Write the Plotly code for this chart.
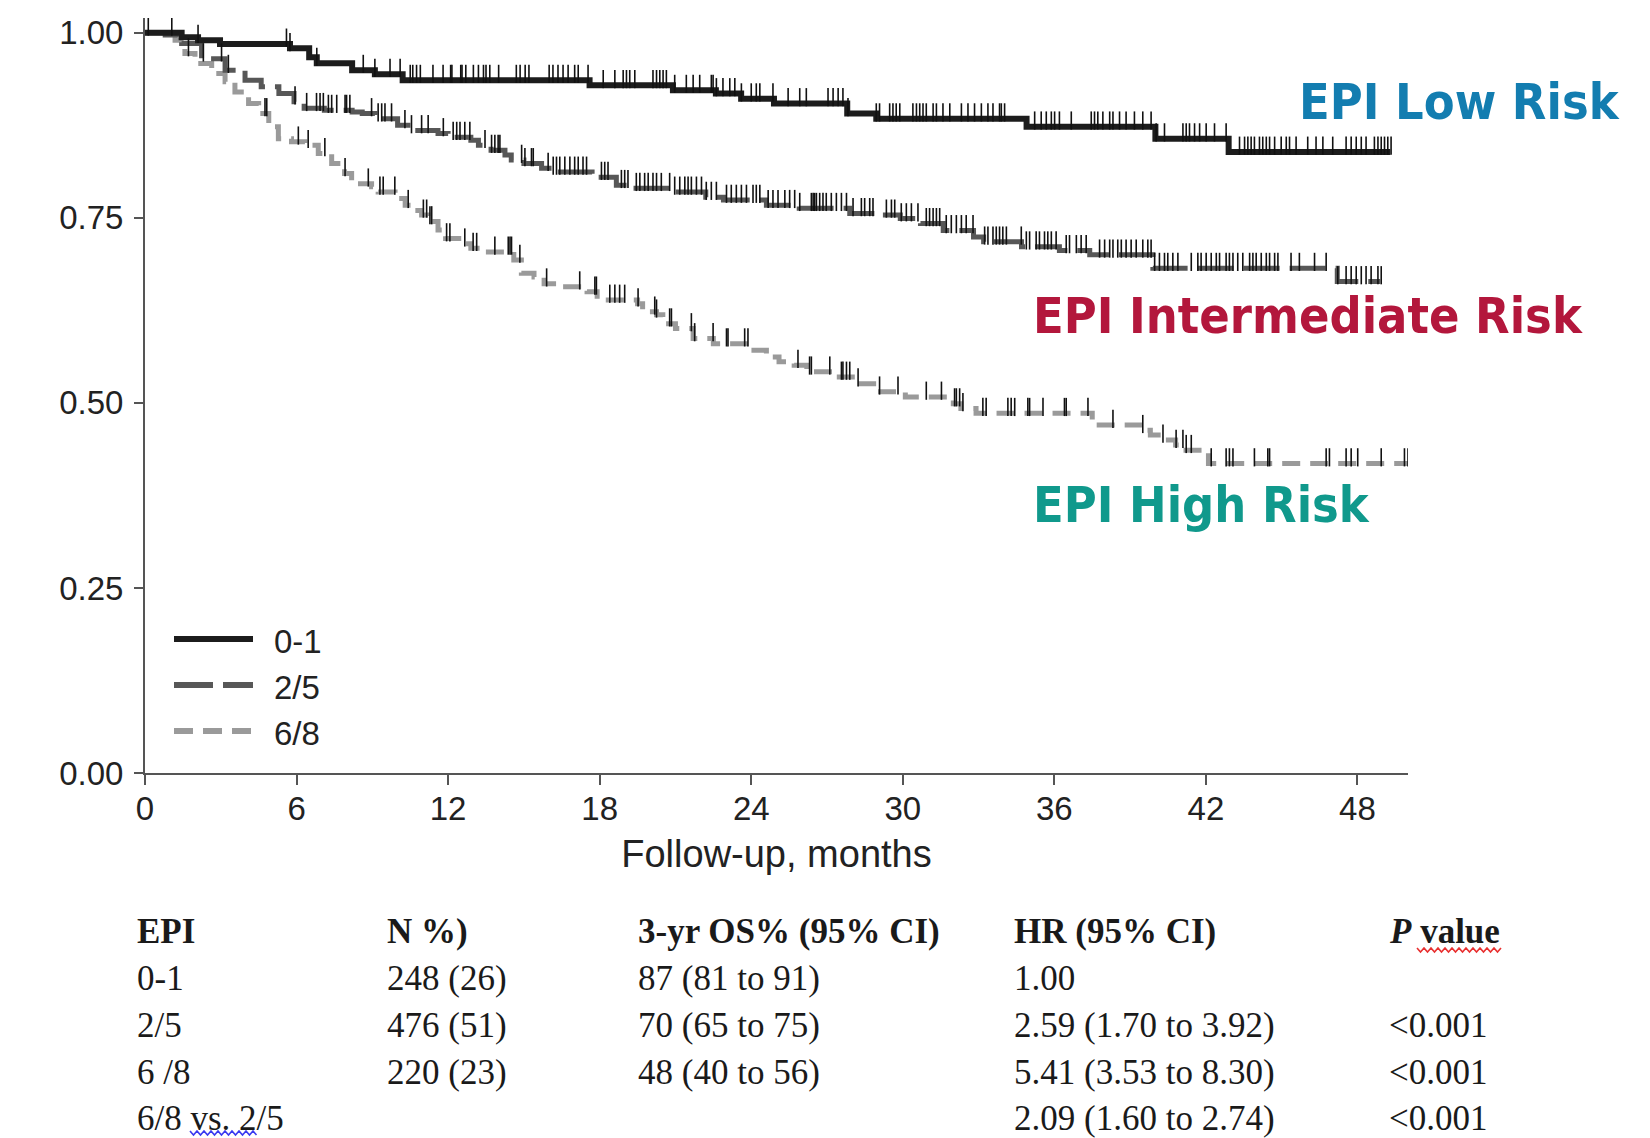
import numpy as np
import plotly.graph_objects as go

# ---------------- data ----------------
# Kaplan-Meier step curves: time of each step (months) and survival after step
low_t = [0, 1.45, 2.1, 2.97, 5.74, 6.5, 6.8, 8.2, 9.1, 10.2, 17.6, 20.9, 22.6, 23.6,
         24.9, 27.8, 28.95, 34.9, 40.0, 42.9, 49.3]
low_s = [1.0, 0.994, 0.99, 0.985, 0.979, 0.967, 0.959, 0.9495, 0.944, 0.936, 0.929,
         0.9225, 0.918, 0.911, 0.9045, 0.891, 0.884, 0.873, 0.857, 0.839, 0.839]

int_t = [0, 0.8, 1.45, 2.24, 3.17, 3.96, 4.6, 5.3, 5.9, 6.3, 7.1, 8.2, 8.6, 9.1, 10.0,
         10.55, 11.6, 12.0, 12.9, 13.2, 13.7, 14.25, 14.5, 15.0, 15.7, 16.1, 17.7, 18.66,
         19.3, 20.9, 22.2, 22.9, 24.6, 25.9, 27.9, 29.2, 29.9, 30.7, 31.6, 32.8, 33.2,
         34.7, 36.2, 37.4, 39.9, 47.2, 48.9]
int_s = [1.0, 0.997, 0.9855, 0.965, 0.9495, 0.936, 0.927, 0.918, 0.907, 0.898, 0.8955,
         0.893, 0.891, 0.884, 0.875, 0.868, 0.864, 0.859, 0.855, 0.848, 0.8415, 0.835,
         0.828, 0.8235, 0.817, 0.812, 0.805, 0.794, 0.790, 0.785, 0.778, 0.774, 0.767,
         0.763, 0.756, 0.754, 0.749, 0.7425, 0.733, 0.724, 0.7176, 0.711, 0.706, 0.700,
         0.682, 0.664, 0.664]

high_t = [0, 1.19, 1.58, 1.98, 2.64, 3.17, 3.56, 4.1, 4.5, 4.9, 5.28, 5.8, 6.33, 6.86,
          7.39, 7.9, 8.18, 8.97, 9.23, 9.9, 10.3, 10.55, 10.95, 11.2, 11.6, 11.9, 12.66,
          12.9, 13.46, 14.6, 14.9, 15.4, 15.8, 16.5, 17.5, 17.9, 19.5, 19.7, 20.25, 20.5,
          21.0, 21.7, 22.5, 23.9, 24.6, 25.1, 25.7, 26.2, 27.2, 28.2, 29.0, 30.1, 32.0,
          32.3, 32.9, 37.5, 39.5, 39.8, 40.3, 40.8, 41.1, 42.1, 50.0]
high_s = [1.0, 0.99, 0.972, 0.9585, 0.945, 0.934, 0.920, 0.9045, 0.891, 0.873, 0.857,
          0.8527, 0.848, 0.837, 0.8235, 0.810, 0.796, 0.792, 0.785, 0.776, 0.767, 0.760,
          0.754, 0.745, 0.7335, 0.722, 0.715, 0.709, 0.704, 0.693, 0.675, 0.670, 0.661,
          0.657, 0.650, 0.639, 0.634, 0.623, 0.619, 0.607, 0.6005, 0.587, 0.580, 0.571,
          0.562, 0.5555, 0.551, 0.542, 0.535, 0.526, 0.515, 0.508, 0.499, 0.4925, 0.486,
          0.470, 0.463, 0.4565, 0.450, 0.443, 0.436, 0.418, 0.418]

# censoring times (months)
low_cens = [0.13, 1.06, 2.1, 5.6, 5.74, 6.8, 8.64, 9.1, 9.7, 10.1, 10.5, 10.6, 10.75, 10.9,
            11.4, 11.8, 12.1, 12.15, 12.5, 12.55, 12.7, 13.0, 13.2, 13.4, 13.5, 13.65, 14.0,
            14.7, 14.85, 15.05, 15.2, 16.0, 16.15, 16.35, 16.55, 16.75, 17.01, 17.15, 17.54,
            18.14, 18.6, 18.93, 19.06, 19.19, 19.39, 20.11, 20.25, 20.38, 20.51, 20.64,
            20.97, 21.43, 21.7, 21.96, 22.42, 22.49, 22.62, 22.88, 23.15, 23.35, 23.61, 24.0,
            24.2, 24.34, 24.86, 25.46, 25.92, 26.18, 27.04, 27.24, 27.44, 27.63, 27.83, 28.95,
            29.08, 29.48, 29.61, 29.74, 29.88, 30.4, 30.54, 30.67, 30.8, 30.93, 31.2, 31.33,
            31.59, 31.86, 32.32, 32.58, 32.84, 33.11, 33.37, 33.57, 33.83, 33.9, 34.03, 35.22,
            35.48, 35.68, 35.88, 36.01, 36.2, 36.67, 37.46, 37.59, 37.72, 37.92, 38.19, 38.32,
            38.58, 38.84, 39.17, 39.5, 39.83, 40.03, 40.36, 41.09, 41.22, 41.35, 41.55, 41.75,
            42.01, 42.34, 42.8, 43.33, 43.53, 43.66, 43.79, 43.92, 44.12, 44.25, 44.39, 44.52,
            44.72, 44.98, 45.18, 45.31, 45.57, 46.03, 46.36, 46.63, 47.02, 47.55, 47.75, 47.95,
            48.15, 48.34, 48.67, 48.81, 48.94, 49.07, 49.2, 49.33]
int_cens = [2.31, 3.03, 3.3, 5.94, 6.4, 6.79, 6.93, 7.06, 7.26, 7.39, 7.59, 7.92, 7.98, 8.11,
            8.97, 9.23, 9.37, 9.5, 9.76, 10.29, 10.55, 10.95, 11.21, 11.81, 12.2, 12.34, 12.47,
            12.66, 12.86, 13.46, 13.72, 13.85, 13.98, 14.05, 14.91, 15.04, 15.3, 15.37, 15.96,
            16.16, 16.29, 16.42, 16.62, 16.82, 17.01, 17.15, 17.34, 17.48, 18.07, 18.2, 18.33,
            18.86, 18.99, 19.12, 19.45, 19.59, 19.78, 19.92, 20.11, 20.25, 20.44, 20.77, 20.97,
            21.17, 21.37, 21.5, 21.63, 21.83, 22.03, 22.22, 22.42, 22.62, 23.02, 23.21, 23.41,
            23.61, 23.81, 24.07, 24.2, 24.34, 24.67, 24.86, 25.06, 25.33, 25.52, 25.72, 25.92,
            26.38, 26.45, 26.51, 26.58, 26.71, 26.84, 26.97, 27.17, 27.37, 27.57, 27.77, 28.03,
            28.36, 28.49, 28.69, 28.82, 29.35, 29.55, 29.68, 29.94, 30.14, 30.34, 30.6, 30.93,
            31.06, 31.2, 31.33, 31.46, 31.72, 31.92, 32.12, 32.32, 32.51, 32.78, 33.24, 33.37,
            33.57, 33.7, 33.83, 33.96, 34.1, 34.69, 34.89, 35.02, 35.28, 35.41, 35.61, 35.74,
            35.88, 36.07, 36.47, 36.6, 36.87, 37.06, 37.26, 37.79, 37.99, 38.19, 38.32, 38.51,
            38.65, 38.84, 39.04, 39.24, 39.5, 39.7, 39.83, 39.97, 40.16, 40.36, 40.49, 40.69,
            40.89, 41.42, 41.68, 41.81, 42.01, 42.21, 42.41, 42.54, 42.8, 42.93, 43.07, 43.26,
            43.46, 43.73, 43.86, 43.99, 44.19, 44.39, 44.52, 44.72, 44.85, 45.37, 45.7, 46.3,
            46.76, 47.22, 47.55, 47.75, 47.95, 48.15, 48.34, 48.54, 48.81, 48.94]
high_cens = [1.72, 4.75, 4.82, 6.07, 6.46, 7.12, 7.92, 8.84, 9.3, 9.43, 9.89, 10.42, 11.02,
             11.15, 11.28, 11.35, 11.94, 12.07, 12.66, 12.99, 13.13, 13.85, 14.38, 14.45,
             14.51, 14.84, 15.9, 17.21, 17.81, 17.87, 18.4, 18.6, 18.79, 18.99, 19.52, 20.18,
             20.25, 20.77, 20.84, 21.63, 21.76, 22.49, 23.02, 23.08, 23.74, 23.87, 25.85,
             26.31, 26.38, 27.11, 27.57, 27.63, 27.77, 27.9, 28.23, 29.08, 29.81, 30.93, 31.53,
             32.05, 32.12, 32.25, 32.38, 33.17, 33.3, 34.16, 34.29, 34.43, 34.95, 35.02, 35.55,
             36.4, 36.47, 37.33, 38.32, 39.5, 40.3, 40.82, 41.09, 41.22, 41.42, 42.21, 42.8,
             42.93, 43.07, 43.92, 44.45, 44.52, 46.76, 46.89, 47.55, 47.75, 48.01, 48.94,
             49.86, 50.0]

group_names = ["0-1", "2/5", "6/8"]
risk_labels = ["EPI Low Risk", "EPI Intermediate Risk", "EPI High Risk"]

x_ticks = [0, 6, 12, 18, 24, 30, 36, 42, 48]
y_ticks = [0.0, 0.25, 0.50, 0.75, 1.00]
x_title = "Follow-up, months"

# summary table
tbl_header = ["EPI", "N %)", "3-yr OS% (95% CI)", "HR (95% CI)", "<i>P</i> value"]
tbl_epi = ["0-1", "2/5", "6 /8", "6/8 vs. 2/5"]
tbl_n = ["248 (26)", "476 (51)", "220 (23)", ""]
tbl_os = ["87 (81 to 91)", "70 (65 to 75)", "48 (40 to 56)", ""]
tbl_hr = ["1.00", "2.59 (1.70 to 3.92)", "5.41 (3.53 to 8.30)", "2.09 (1.60 to 2.74)"]
tbl_p = ["", "<0.001", "<0.001", "<0.001"]

# ---------------- styling / layout ----------------
W, H = 1650, 1138
PL, PR, PT, PB = 145, 1408, 18, 773   # plot area in pixels


def px(xp):
    return (xp - PL) / (PR - PL)


def py(yp):
    return (PB - yp) / (PB - PT)


line_colors = ["#1c1c1c", "#575757", "#9a9a9a"]
line_widths = [6, 5, 5]
line_dashes = ["solid", "36px,10px", "18px,10px"]
risk_colors = ["#137db0", "#b3173c", "#10998c"]
tick_color = "#111111"
cens_offset = 0.0085

AX_FONT = "Liberation Sans, Arial, sans-serif"
TB_FONT = "Liberation Serif, Times New Roman, serif"
RISK_FONT = "DejaVu Sans Condensed, DejaVu Sans, sans-serif"


def km_at(times, surv, t):
    times = np.asarray(times)
    surv = np.asarray(surv)
    idx = np.searchsorted(times, np.asarray(t), side="right") - 1
    idx = np.clip(idx, 0, len(surv) - 1)
    return surv[idx]


fig = go.Figure()
curves = [(low_t, low_s, low_cens), (int_t, int_s, int_cens), (high_t, high_s, high_cens)]
# draw high first so low risk on top
for i in [2, 1, 0]:
    t, s, c = curves[i]
    fig.add_trace(go.Scatter(
        x=t, y=s, mode="lines", line_shape="hv", name=group_names[i],
        line=dict(color=line_colors[i], width=line_widths[i], dash=line_dashes[i]),
        showlegend=False, hoverinfo="skip"))
for i in [2, 1, 0]:
    t, s, c = curves[i]
    fig.add_trace(go.Scatter(
        x=c, y=km_at(t, s, c) + cens_offset, mode="markers", showlegend=False,
        hoverinfo="skip",
        marker=dict(symbol="line-ns", size=13, color=tick_color,
                    line=dict(color=tick_color, width=1.6))))

shapes = []
annotations = []

# manual legend (long line samples as in the reference)
leg_y = [639, 685, 731]
for i in range(3):
    shapes.append(dict(type="line", xref="paper", yref="paper",
                       x0=px(174), x1=px(253), y0=py(leg_y[i]), y1=py(leg_y[i]),
                       line=dict(color=line_colors[i], width=6,
                                 dash=["solid", "39px,10px", "19px,10px"][i])))
    annotations.append(dict(xref="paper", yref="paper", x=px(272), y=py(leg_y[i] + 2),
                            xanchor="left", yanchor="middle", showarrow=False,
                            text=group_names[i],
                            font=dict(family=AX_FONT, size=33, color="#222")))

# risk labels
risk_pos = [(1297, 102), (1031, 316), (1031, 505)]
for i in range(3):
    annotations.append(dict(xref="paper", yref="paper", x=px(risk_pos[i][0]),
                            y=py(risk_pos[i][1]), xanchor="left", yanchor="middle",
                            showarrow=False, text="<b>" + risk_labels[i] + "</b>",
                            font=dict(family=RISK_FONT, size=50, color=risk_colors[i])))

# table
col_x = [135, 385, 636, 1012, 1387]
row_y = [932, 978, 1025, 1072, 1118]
cols = [tbl_epi, tbl_n, tbl_os, tbl_hr, tbl_p]
for j in range(5):
    annotations.append(dict(xref="paper", yref="paper", x=px(col_x[j]), y=py(row_y[0]),
                            xanchor="left", yanchor="middle", showarrow=False,
                            text="<b>" + tbl_header[j] + "</b>",
                            font=dict(family=TB_FONT, size=35, color="#1a1a1a")))
    for r in range(4):
        if cols[j][r] == "":
            continue
        annotations.append(dict(xref="paper", yref="paper", x=px(col_x[j]), y=py(row_y[r + 1]),
                                xanchor="left", yanchor="middle", showarrow=False,
                                text=cols[j][r].replace("<0", "&lt;0"),
                                font=dict(family=TB_FONT, size=35, color="#1a1a1a")))


# spell-check squiggles (decoration in the reference image)
def squiggle(x0, x1, yc, color):
    pts = []
    x = x0
    k = 0
    while x <= x1:
        pts.append((px(x), py(yc + (2 if k % 2 else -2))))
        x += 3.5
        k += 1
    d = "M " + " L ".join(f"{a:.5f},{b:.5f}" for a, b in pts)
    return dict(type="path", xref="paper", yref="paper", path=d,
                line=dict(color=color, width=1.6))


shapes.append(squiggle(190, 258, 1133, "#3a3af0"))
shapes.append(squiggle(1417, 1503, 950, "#e83030"))

fig.update_layout(
    width=W, height=H, autosize=False,
    margin=dict(l=PL, r=W - PR, t=PT, b=H - PB, pad=0),
    paper_bgcolor="white", plot_bgcolor="white",
    showlegend=False,
    shapes=shapes, annotations=annotations,
    xaxis=dict(range=[0, 50], tickvals=x_ticks, ticktext=[str(v) for v in x_ticks],
               showgrid=False, zeroline=False, showline=True, linecolor="#555",
               linewidth=2, ticks="outside", ticklen=10, tickwidth=2, tickcolor="#555",
               tickfont=dict(family=AX_FONT, size=33, color="#222"),
               ticklabelstandoff=-5,
               title=dict(text=x_title, font=dict(family=AX_FONT, size=38, color="#222"),
                          standoff=15)),
    yaxis=dict(range=[0, 1.02], tickvals=y_ticks, ticktext=[f"{v:.2f}" for v in y_ticks],
               showgrid=False, zeroline=False, showline=True, linecolor="#555",
               linewidth=2, ticks="outside", ticklen=9, tickwidth=2, tickcolor="#555",
               tickfont=dict(family=AX_FONT, size=33, color="#222"),
               ticklabelstandoff=4),
)

fig.write_html("out.html", config={"displayModeBar": False},
               post_script="document.body.style.margin='0';"
                           "document.body.style.overflow='hidden';")
